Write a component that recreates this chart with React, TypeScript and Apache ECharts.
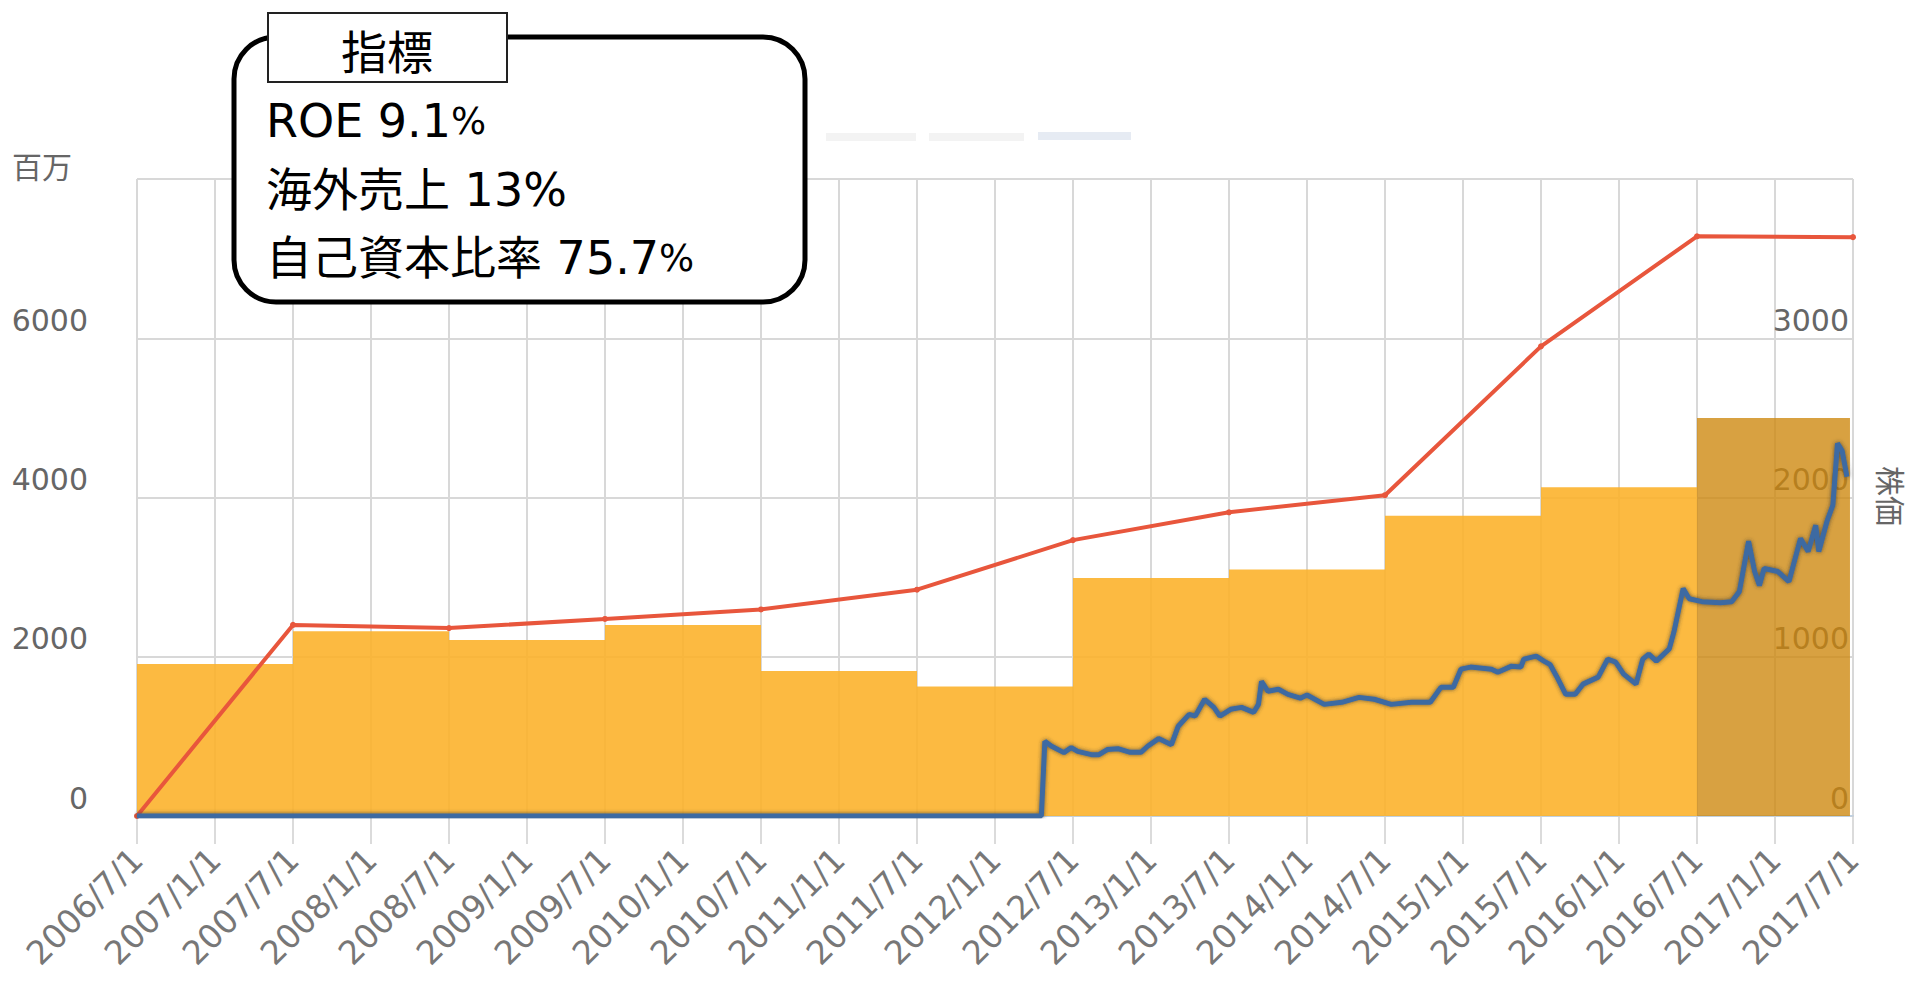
import React, { useEffect, useRef } from 'react';
import * as echarts from 'echarts';

// ---- tick labels ----
const xTickLabels = [
  '2006/7/1', '2007/1/1', '2007/7/1', '2008/1/1', '2008/7/1', '2009/1/1',
  '2009/7/1', '2010/1/1', '2010/7/1', '2011/1/1', '2011/7/1', '2012/1/1',
  '2012/7/1', '2013/1/1', '2013/7/1', '2014/1/1', '2014/7/1', '2015/1/1',
  '2015/7/1', '2016/1/1', '2016/7/1', '2017/1/1', '2017/7/1',
];
const leftTickLabels = ['0', '2000', '4000', '6000'];
const rightTickLabels = ['0', '1000', '2000', '3000'];

// ---- sales blocks (百万), each fiscal year from start to end ----
const salesStart = ['2006/7/1', '2007/7/1', '2008/7/1', '2009/7/1', '2010/7/1', '2011/7/1', '2012/7/1', '2013/7/1', '2014/7/1', '2015/7/1'];
const salesEnd = ['2007/7/1', '2008/7/1', '2009/7/1', '2010/7/1', '2011/7/1', '2012/7/1', '2013/7/1', '2014/7/1', '2015/7/1', '2016/7/1'];
const salesValues = [1910, 2320, 2210, 2400, 1820, 1625, 2990, 3095, 3770, 4130];

const forecastStart = ['2016/7/1'];
const forecastEnd = ['2017/6/24'];
const forecastValues = [5000];

// ---- red line (百万) ----
const redDates = ['2006/7/1', '2007/7/1', '2008/7/1', '2009/7/1', '2010/7/1', '2011/7/1', '2012/7/1', '2013/7/1', '2014/7/1', '2015/7/1', '2016/7/1', '2017/7/1'];
const redValues = [0, 2400, 2360, 2475, 2594, 2842, 3465, 3814, 4029, 5898, 7280, 7270];

// ---- stock price (株価) ----
const priceDates = [
  '2006/7/1', '2012/4/18', '2012/4/26', '2012/5/12', '2012/6/10', '2012/6/27', '2012/7/12', '2012/8/14',
  '2012/9/1', '2012/9/20', '2012/10/15', '2012/11/13', '2012/12/8', '2012/12/24', '2013/1/19', '2013/2/17',
  '2013/3/4', '2013/3/30', '2013/4/13', '2013/5/5', '2013/5/27', '2013/6/10', '2013/7/5', '2013/7/31',
  '2013/8/29', '2013/9/9', '2013/9/16', '2013/10/1', '2013/10/26', '2013/11/17', '2013/12/16', '2014/1/1',
  '2014/2/10', '2014/3/22', '2014/5/1', '2014/6/6', '2014/7/16', '2014/9/2', '2014/10/16', '2014/11/10',
  '2014/12/9', '2014/12/27', '2015/1/19', '2015/3/7', '2015/3/22', '2015/4/23', '2015/5/15', '2015/5/22',
  '2015/6/20', '2015/7/8', '2015/7/23', '2015/8/7', '2015/8/29', '2015/9/20', '2015/10/8', '2015/11/13',
  '2015/12/5', '2015/12/24', '2016/1/12', '2016/2/10', '2016/2/25', '2016/3/10', '2016/3/28', '2016/4/27',
  '2016/5/8', '2016/5/30', '2016/6/13', '2016/7/13', '2016/8/26', '2016/9/21', '2016/10/9', '2016/10/31',
  '2016/11/14', '2016/11/25', '2016/12/6', '2017/1/8', '2017/2/3', '2017/2/28', '2017/3/18', '2017/4/5',
  '2017/4/12', '2017/5/1', '2017/5/15', '2017/5/26', '2017/6/6', '2017/6/17',
];
const priceValues = [
  0, 0, 469, 438, 398, 430, 406, 385,
  385, 417, 423, 400, 400, 438, 486, 448,
  564, 638, 627, 733, 682, 627, 670, 682,
  651, 701, 845, 783, 796, 764, 740, 760,
  701, 714, 745, 733, 701, 714, 714, 808,
  808, 922, 935, 922, 903, 941, 935, 985,
  1004, 973, 950, 878, 764, 764, 828, 872,
  985, 966, 891, 828, 985, 1017, 973, 1049,
  1156, 1428, 1364, 1346, 1339, 1346, 1409, 1725,
  1535, 1447, 1554, 1535, 1472, 1743, 1661, 1826,
  1661, 1851, 1952, 2340, 2293, 2130,
];

// months since 2006/7/1
function toMonths(s: string): number {
  const [y, m, d] = s.split('/').map(Number);
  const dim = new Date(y, m, 0).getDate();
  return (y - 2006) * 12 + (m - 7) + (d - 1) / dim;
}

function blockRenderer(fill: string) {
  return (params: any, api: any) => {
    const s = api.value(0);
    const e = api.value(1);
    const v = api.value(2);
    const p0 = api.coord([s, v]);
    const p1 = api.coord([e, 0]);
    return {
      type: 'rect',
      shape: { x: p0[0], y: p0[1], width: p1[0] - p0[0], height: p1[1] - p0[1] },
      style: { fill },
    };
  };
}

const tickFont = 'DejaVu Sans';
const cjkFont = '"Noto Sans CJK JP", "Noto Sans CJK SC", sans-serif';
const boxFont = '"DejaVu Sans", "Noto Sans CJK JP", sans-serif';

export default function App() {
  const ref = useRef<HTMLDivElement>(null);

  useEffect(() => {
    if (!ref.current) return;
    const chart = echarts.init(ref.current, undefined, { renderer: 'svg' });

    const option: any = {
      animation: false,
      backgroundColor: '#ffffff',
      grid: { left: 137, right: 62, top: 179, bottom: 175, containLabel: false },
      xAxis: {
        type: 'value',
        min: 0,
        max: 132,
        interval: 6,
        axisLine: { show: true, onZero: false, lineStyle: { color: '#C0D0E0', width: 2 } },
        axisTick: { show: true, length: 28, lineStyle: { color: '#cfcfcf', width: 1.5 } },
        splitLine: { show: true, lineStyle: { color: '#d8d8d8', width: 2 } },
        axisLabel: {
          rotate: 45,
          margin: 38,
          fontSize: 33,
          color: '#777',
          fontFamily: tickFont,
          formatter: (v: number) => xTickLabels[Math.round(v / 6)] ?? '',
        },
      },
      yAxis: [
        {
          type: 'value',
          position: 'left',
          min: 0,
          max: 8000,
          interval: 2000,
          axisLine: { show: false },
          axisTick: { show: false },
          splitLine: { show: true, lineStyle: { color: '#d8d8d8', width: 2 } },
          axisLabel: {
            margin: 49,
            fontSize: 30,
            color: '#666',
            fontFamily: tickFont,
            verticalAlign: 'bottom',
            padding: [0, 0, 3, 0],
            formatter: (v: number) => (leftTickLabels.includes(String(v)) ? String(v) : ''),
          },
        },
        {
          type: 'value',
          position: 'right',
          min: 0,
          max: 4000,
          interval: 1000,
          axisLine: { show: false },
          axisTick: { show: false },
          splitLine: { show: false },
          axisLabel: {
            inside: true,
            margin: 4,
            fontSize: 30,
            color: '#666',
            fontFamily: tickFont,
            verticalAlign: 'bottom',
            padding: [0, 0, 3, 0],
            formatter: (v: number) => (rightTickLabels.includes(String(v)) ? String(v) : ''),
          },
        },
      ],
      series: [
        {
          name: '売上高',
          type: 'custom',
          xAxisIndex: 0,
          yAxisIndex: 0,
          z: 2,
          clip: true,
          encode: { x: [0, 1], y: 2 },
          renderItem: blockRenderer('rgba(252,178,44,0.9)'),
          data: salesValues.map((v, i) => [toMonths(salesStart[i]), toMonths(salesEnd[i]), v]),
        },
        {
          name: '売上高(予想)',
          type: 'custom',
          xAxisIndex: 0,
          yAxisIndex: 0,
          z: 2,
          clip: true,
          encode: { x: [0, 1], y: 2 },
          renderItem: blockRenderer('rgba(205,134,12,0.78)'),
          data: forecastValues.map((v, i) => [toMonths(forecastStart[i]), toMonths(forecastEnd[i]), v]),
        },
        {
          name: '指標',
          type: 'line',
          yAxisIndex: 0,
          z: 3,
          symbol: 'circle',
          symbolSize: 6,
          showSymbol: true,
          itemStyle: { color: '#E8563C' },
          lineStyle: { color: '#E8563C', width: 4 },
          data: redDates.map((d, i) => [toMonths(d), redValues[i]]),
        },
        {
          name: '株価',
          type: 'line',
          yAxisIndex: 1,
          z: 4,
          showSymbol: false,
          symbol: 'none',
          lineStyle: {
            color: '#3d6aa2',
            width: 5,
            shadowColor: 'rgba(50,50,50,0.75)',
            shadowBlur: 4,
          },
          data: priceDates.map((d, i) => [toMonths(d), priceValues[i]]),
        },
      ],
      graphic: [
        // faded legend remnants
        { type: 'rect', z: 1, shape: { x: 826, y: 133, width: 90, height: 8 }, style: { fill: '#f3f3f3' } },
        { type: 'rect', z: 1, shape: { x: 929, y: 133, width: 95, height: 8 }, style: { fill: '#f3f3f3' } },
        { type: 'rect', z: 1, shape: { x: 1038, y: 132, width: 93, height: 8 }, style: { fill: '#e6ebf3' } },
        // axis titles
        {
          type: 'text',
          z: 10,
          x: 42,
          y: 165,
          style: { text: '百万', fill: '#666', font: `30px ${cjkFont}`, align: 'center', verticalAlign: 'middle' },
        },
        {
          type: 'text',
          z: 10,
          x: 1892,
          y: 496,
          rotation: -Math.PI / 2,
          style: { text: '株価', fill: '#666', font: `30px ${cjkFont}`, align: 'center', verticalAlign: 'middle' },
        },
        // callout
        {
          type: 'rect',
          z: 20,
          shape: { x: 234, y: 37, width: 571, height: 265, r: 42 },
          style: { fill: '#ffffff', stroke: '#000000', lineWidth: 5 },
        },
        {
          type: 'rect',
          z: 21,
          shape: { x: 268, y: 13, width: 239, height: 69 },
          style: { fill: '#ffffff', stroke: '#222222', lineWidth: 2 },
        },
        {
          type: 'text',
          z: 22,
          x: 387,
          y: 49,
          style: { text: '指標', fill: '#000', font: `46px ${cjkFont}`, align: 'center', verticalAlign: 'middle' },
        },
        {
          type: 'text',
          z: 22,
          x: 266,
          y: 121,
          style: {
            text: '{a|ROE 9.1}{p|%}',
            verticalAlign: 'middle',
            rich: {
              a: { fontSize: 46, fontFamily: boxFont, fill: '#000', color: '#000' },
              p: { fontSize: 37, fontFamily: boxFont, fill: '#000', color: '#000' },
            },
          },
        },
        {
          type: 'text',
          z: 22,
          x: 266,
          y: 190,
          style: { text: '海外売上 13%', fill: '#000', font: `46px ${boxFont}`, verticalAlign: 'middle' },
        },
        {
          type: 'text',
          z: 22,
          x: 266,
          y: 258,
          style: {
            text: '{a|自己資本比率 75.7}{p|%}',
            verticalAlign: 'middle',
            rich: {
              a: { fontSize: 46, fontFamily: boxFont, fill: '#000', color: '#000' },
              p: { fontSize: 37, fontFamily: boxFont, fill: '#000', color: '#000' },
            },
          },
        },
      ],
    };

    chart.setOption(option);
    return () => {
      chart.dispose();
    };
  }, []);

  return (
    <div
      ref={ref}
      style={{ position: 'fixed', left: 0, top: 0, width: '1915px', height: '991px', background: '#fff' }}
    />
  );
}
